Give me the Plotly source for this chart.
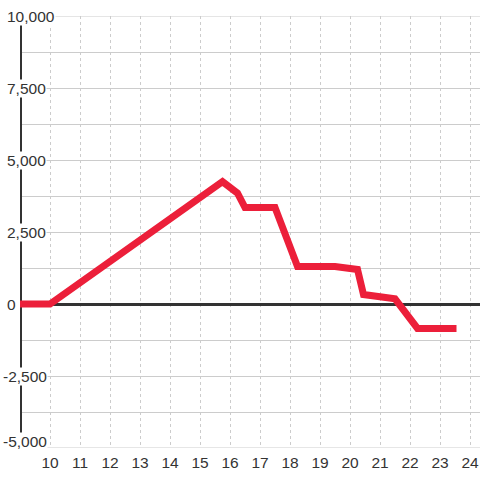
import plotly.graph_objects as go

# Data
x_vals = [9, 10, 15.75, 16.25, 16.5, 17.5, 18.25, 19.5, 20.25, 20.45, 21.0, 21.5, 22.25, 23.55]
y_vals = [0, 0, 4250, 3850, 3350, 3350, 1300, 1300, 1200, 330, 250, 180, -850, -850]

x_ticks = list(range(10, 25))
x_tick_labels = [str(v) for v in x_ticks]
y_ticks = [10000, 7500, 5000, 2500, 0, -2500, -5000]
y_tick_labels = ["10,000", "7,500", "5,000", "2,500", "0", "-2,500", "-5,000"]

FONT = "Liberation Sans, Arial, sans-serif"
TXT = "#333333"
Y_RANGE = [-5000, 10000]

fig = go.Figure()
fig.add_trace(go.Scatter(
    x=x_vals, y=y_vals, mode="lines",
    line=dict(color="#ec1f3a", width=7),
    cliponaxis=False, hoverinfo="skip", showlegend=False,
))

# make sure the edge gridlines are drawn
for yv in Y_RANGE:
    fig.add_shape(type="line", xref="paper", yref="y", x0=0, x1=1, y0=yv, y1=yv,
                  line=dict(color="#cccccc", width=1), layer="between")

# dark vertical axis line at left edge
fig.add_shape(type="line", xref="x", yref="y", x0=9, x1=9, y0=Y_RANGE[0], y1=Y_RANGE[1],
              line=dict(color="#333333", width=4), layer="between")

# y tick labels as annotations with white background
y_min = min(y_ticks)
for v, lab in zip(y_ticks, y_tick_labels):
    left_px = 6 - (4 if lab.startswith("-") else 0)
    fig.add_annotation(
        xref="paper", yref="y", x=0, y=v, xanchor="left", yanchor="middle",
        xshift=left_px - 20, yshift=7 if v == y_min else 0,
        text=lab, showarrow=False,
        font=dict(family=FONT, size=15.5, color=TXT),
        bgcolor="white", borderpad=0,
    )

fig.update_layout(
    width=480, height=480,
    margin=dict(l=20, r=0, t=16, b=32),
    paper_bgcolor="white", plot_bgcolor="white",
    xaxis=dict(
        range=[9, 9 + 460 / 30], tickvals=x_ticks, ticktext=x_tick_labels,
        showgrid=True, gridcolor="#cccccc", gridwidth=1, griddash="dot",
        zeroline=False, showline=False, ticks="",
        tickfont=dict(family=FONT, size=15.5, color=TXT),
        ticklabelstandoff=3,
        automargin=False,
    ),
    yaxis=dict(
        range=Y_RANGE, dtick=1250, tick0=0,
        showgrid=True, gridcolor="#cccccc", gridwidth=1,
        zeroline=True, zerolinecolor="#333333", zerolinewidth=3,
        showticklabels=False, showline=False, ticks="",
        automargin=False,
    ),
)

fig.write_html("out.html", config={"displayModeBar": False},
               post_script="document.body.style.margin='0';")
